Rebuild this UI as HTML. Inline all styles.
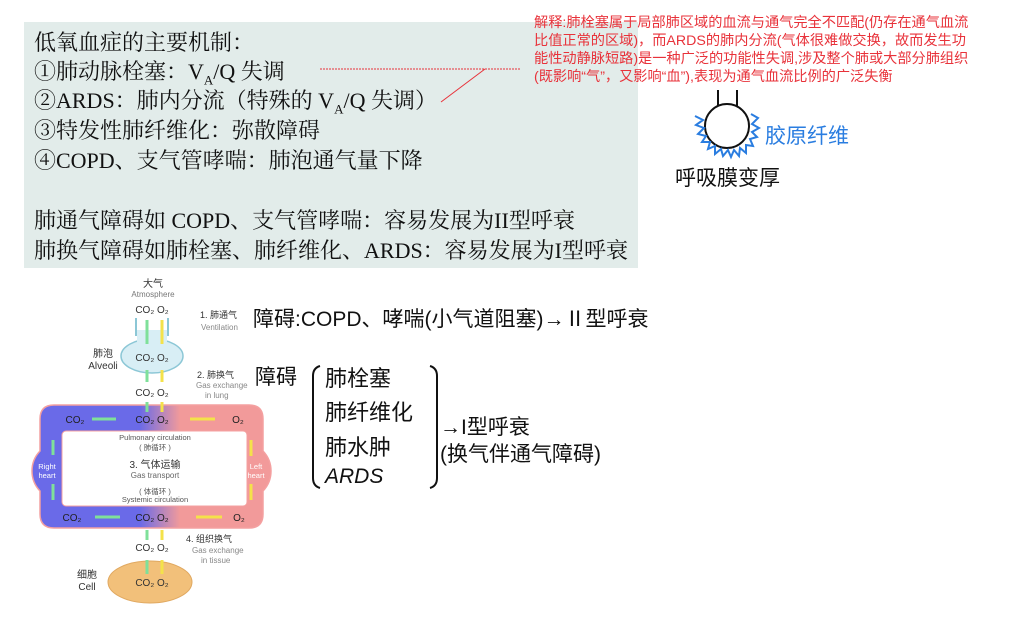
<!DOCTYPE html>
<html><head><meta charset="utf-8"><style>
body{margin:0;width:1020px;height:629px;background:#fff;overflow:hidden;position:relative;font-family:"Liberation Sans","Noto Sans CJK SC",sans-serif}
.panel{position:absolute;left:24px;top:22px;width:614px;height:246px;background:#e2ecea}
.pt{position:absolute;left:34px;font-family:"Liberation Serif","Noto Serif CJK SC",serif;font-size:22px;line-height:26px;color:#111;white-space:nowrap}
.note{position:absolute;left:534px;top:14px;font-size:14.2px;line-height:18px;color:#e8323a;white-space:nowrap}
.hw{position:absolute;font-family:"Liberation Sans","Noto Sans CJK SC",sans-serif;font-size:21px;color:#111;white-space:nowrap}
</style></head><body>
<div class="panel"></div>
<div class="pt" style="top:30px">低氧血症的主要机制：</div>
<div class="pt" style="top:59px">①肺动脉栓塞：V<sub style="font-size:13px">A</sub>/Q 失调</div>
<div class="pt" style="top:88px">②ARDS：肺内分流（特殊的 V<sub style="font-size:13px">A</sub>/Q 失调）</div>
<div class="pt" style="top:118px">③特发性肺纤维化：弥散障碍</div>
<div class="pt" style="top:148px">④COPD、支气管哮喘：肺泡通气量下降</div>
<div class="pt" style="top:208px">肺通气障碍如 COPD、支气管哮喘：容易发展为II型呼衰</div>
<div class="pt" style="top:238px">肺换气障碍如肺栓塞、肺纤维化、ARDS：容易发展为I型呼衰</div>
<div class="note">解释:肺栓塞属于局部肺区域的血流与通气完全不匹配(仍存在通气血流<br>比值正常的区域)，而ARDS的肺内分流(气体很难做交换，故而发生功<br>能性动静脉短路)是一种广泛的功能性失调,涉及整个肺或大部分肺组织<br>(既影响“气”，又影响“血”),表现为通气血流比例的广泛失衡</div>
<div class="hw" style="left:765px;top:120px;color:#2a7de0">胶原纤维</div>
<div class="hw" style="left:675px;top:162px">呼吸膜变厚</div>
<div class="hw" style="left:253px;top:303px">障碍:COPD、哮喘(小气道阻塞)→Ⅱ型呼衰</div>
<div class="hw" style="left:255px;top:361px">障碍</div>
<div class="hw" style="left:325px;top:361px;font-size:22px">肺栓塞</div>
<div class="hw" style="left:325px;top:395px;font-size:22px">肺纤维化</div>
<div class="hw" style="left:325px;top:430px;font-size:22px">肺水肿</div>
<div class="hw" style="left:325px;top:465px;font-style:italic">ARDS</div>
<div class="hw" style="left:440px;top:411px">→I型呼衰</div>
<div class="hw" style="left:440px;top:438px">(换气伴通气障碍)</div>
<svg width="1020" height="629" style="position:absolute;left:0;top:0" font-family="Liberation Sans, Noto Sans CJK SC, sans-serif">
<defs>
<linearGradient id="g" x1="0" x2="1"><stop offset="0.45" stop-color="#6a6ae8"/><stop offset="0.62" stop-color="#f29a9a"/></linearGradient>
</defs>
<line x1="320" y1="69" x2="520" y2="69" stroke="#e8323a" stroke-dasharray="2,1"/>
<line x1="485" y1="69" x2="441" y2="102" stroke="#e8323a"/>
<!-- bubble -->
<path d="M718 90V108 M737 90V108" stroke="#111" stroke-width="2"/>
<circle cx="727" cy="126" r="22" fill="#fff" stroke="#111" stroke-width="2"/>
<polyline points="695,116 703,120 696,125 704,128 698,134 706,136 702,142 710,142 708,149 715,146 715,154 721,149 723,156 728,150 731,157 734,150 739,156 740,148 746,153 746,145 753,146 750,139 757,137 752,132 759,128 752,124 758,118 751,114" fill="none" stroke="#2a7de0" stroke-width="2"/>
<!-- brackets -->
<path d="M320 366 Q313 368 313 376 V478 Q313 486 320 488" fill="none" stroke="#111" stroke-width="2"/>
<path d="M430 366 Q437 368 437 376 V478 Q437 486 430 488" fill="none" stroke="#111" stroke-width="2"/>
<!-- diagram -->
<g font-size="9" fill="#333" text-anchor="middle">
<text x="153" y="287" font-size="10">大气</text>
<text x="153" y="297" font-size="8" fill="#777">Atmosphere</text>
<path d="M136 318V336 M168 318V336" stroke="#8cc7d6" stroke-width="2"/>
<ellipse cx="152" cy="356" rx="31" ry="17" fill="#d8eef5" stroke="#8cc7d6" stroke-width="1.5"/>
<rect x="137" y="330" width="30" height="12" fill="#d8eef5"/>
<text x="103" y="357" font-size="10">肺泡</text><text x="103" y="369" font-size="10">Alveoli</text>
<g font-size="10">
<text x="200" y="318" font-size="9" text-anchor="start">1. 肺通气</text><text x="201" y="330" font-size="8" fill="#888" text-anchor="start">Ventilation</text>
<text x="197" y="378" font-size="9" text-anchor="start">2. 肺换气</text><text x="196" y="388" font-size="8" fill="#888" text-anchor="start">Gas exchange</text><text x="205" y="398" font-size="8" fill="#888" text-anchor="start">in lung</text>
<text x="186" y="542" font-size="9" text-anchor="start">4. 组织换气</text><text x="192" y="553" font-size="8" fill="#888" text-anchor="start">Gas exchange</text><text x="201" y="563" font-size="8" fill="#888" text-anchor="start">in tissue</text>
</g>
<!-- loop -->
<path d="M54 405 H249 Q263 405 263 419 V451 A29 29 0 0 1 263 491 V514 Q263 528 249 528 H54 Q40 528 40 514 V491 A29 29 0 0 1 40 451 V419 Q40 405 54 405Z" fill="url(#g)" stroke="#f4a0a0" stroke-width="1.5"/>
<rect x="62" y="431" width="185" height="75" rx="4" fill="#fff" stroke="#f4a0a0"/>
<text x="155" y="440" font-size="7.5" fill="#555">Pulmonary circulation</text>
<text x="155" y="450" font-size="7.5" fill="#555">( 肺循环 )</text>
<text x="155" y="468" font-size="10" fill="#333">3. 气体运输</text>
<text x="155" y="478" font-size="8" fill="#666">Gas transport</text>
<text x="155" y="494" font-size="7.5" fill="#555">( 体循环 )</text>
<text x="155" y="502" font-size="7.5" fill="#555">Systemic circulation</text>
<text x="47" y="469" font-size="7.5" fill="#fff">Right</text><text x="47" y="478" font-size="7.5" fill="#fff">heart</text>
<text x="256" y="469" font-size="7.5" fill="#fff">Left</text><text x="256" y="478" font-size="7.5" fill="#fff">heart</text>
<!-- cell -->
<ellipse cx="150" cy="582" rx="42" ry="21" fill="#f2c07a" stroke="#e0a860"/>
<text x="87" y="578" font-size="10">细胞</text><text x="87" y="590" font-size="10">Cell</text>
<!-- CO2 O2 labels -->
<g font-size="10" fill="#333">
<text x="152" y="313">CO₂ O₂</text><text x="152" y="361">CO₂ O₂</text><text x="152" y="396">CO₂ O₂</text>
<text x="152" y="423" fill="#222">CO₂ O₂</text><text x="152" y="521" fill="#222">CO₂ O₂</text>
<text x="152" y="551">CO₂ O₂</text><text x="152" y="586">CO₂ O₂</text>
<text x="75" y="423" fill="#222">CO₂</text><text x="238" y="423" fill="#222">O₂</text>
<text x="72" y="521" fill="#222">CO₂</text><text x="239" y="521" fill="#222">O₂</text>
</g>
<!-- arrows -->
<g stroke-width="3">
<g stroke="#7fe09a">
<line x1="147" y1="344" x2="147" y2="320"/><line x1="147" y1="382" x2="147" y2="370"/><line x1="147" y1="412" x2="147" y2="402"/>
<line x1="147" y1="574" x2="147" y2="560"/><line x1="147" y1="540" x2="147" y2="530"/>
<line x1="92" y1="419" x2="116" y2="419"/><line x1="120" y1="517" x2="95" y2="517"/>
<line x1="53" y1="455" x2="53" y2="440"/><line x1="53" y1="500" x2="53" y2="484"/>
</g>
<g stroke="#f4e24a">
<line x1="162" y1="320" x2="162" y2="344"/><line x1="162" y1="370" x2="162" y2="382"/><line x1="162" y1="402" x2="162" y2="412"/>
<line x1="162" y1="560" x2="162" y2="574"/><line x1="162" y1="530" x2="162" y2="540"/>
<line x1="190" y1="419" x2="215" y2="419"/><line x1="222" y1="517" x2="196" y2="517"/>
<line x1="251" y1="440" x2="251" y2="456"/><line x1="251" y1="484" x2="251" y2="500"/>
</g>
</g>
</g>
</svg>
</body></html>
